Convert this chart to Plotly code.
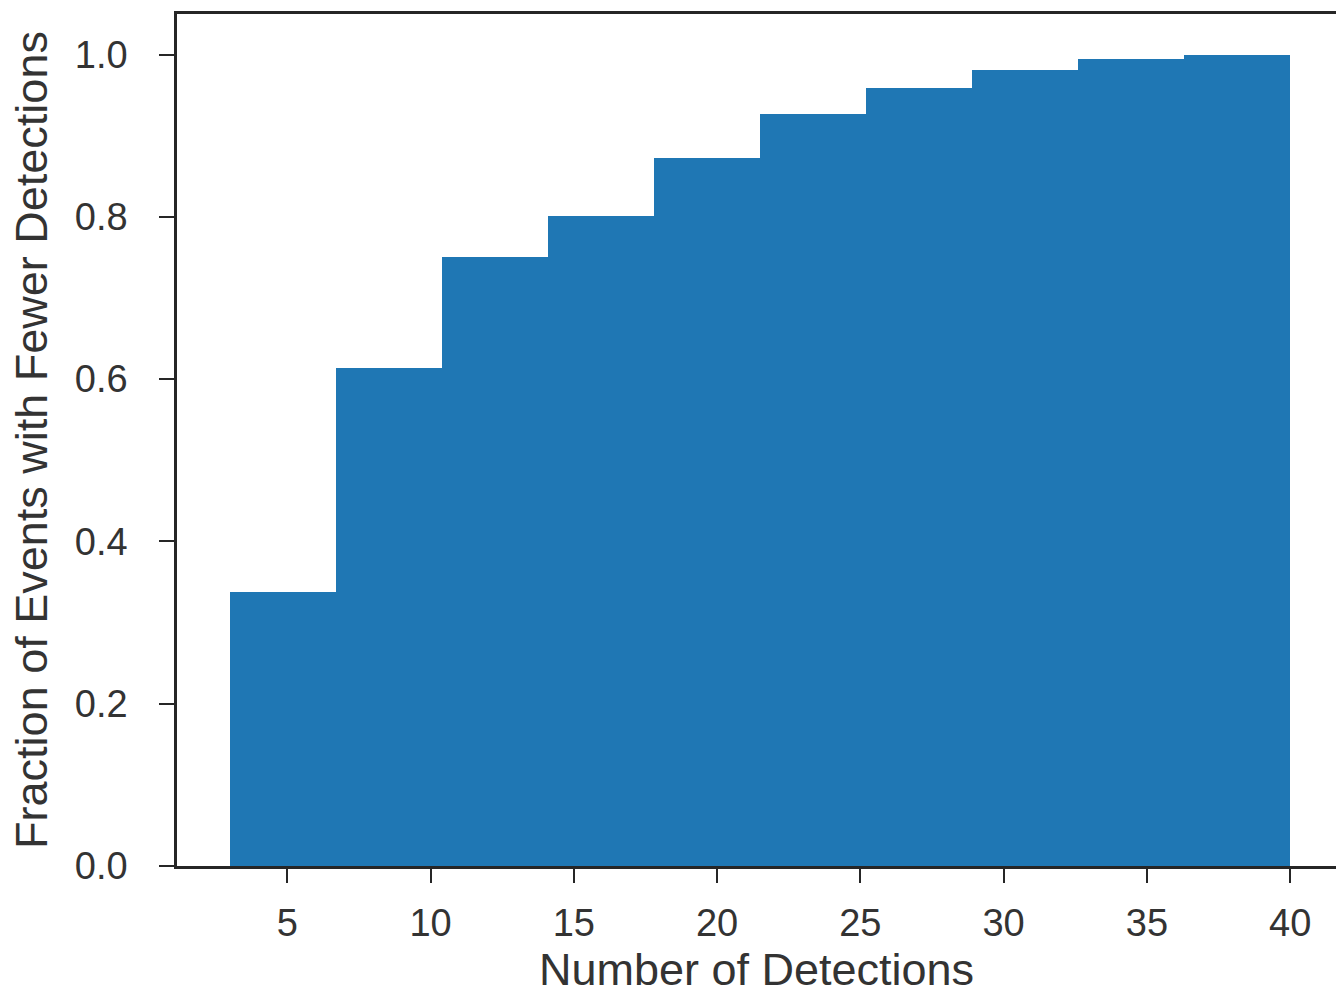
import plotly.graph_objects as go

bin_edges = [3.0, 6.7, 10.4, 14.1, 17.8, 21.5, 25.2, 28.9, 32.6, 36.3, 40.0]
cum_fraction = [0.338, 0.614, 0.750, 0.801, 0.872, 0.927, 0.959, 0.981, 0.995, 1.0]
x_ticks = [5, 10, 15, 20, 25, 30, 35, 40]
y_ticks = [0.0, 0.2, 0.4, 0.6, 0.8, 1.0]

centers = [(bin_edges[i] + bin_edges[i + 1]) / 2 for i in range(len(cum_fraction))]
widths = [bin_edges[i + 1] - bin_edges[i] for i in range(len(cum_fraction))]

FONT = "Liberation Sans, Arial, sans-serif"
DARK = "#262626"

fig = go.Figure(go.Bar(
    x=centers, y=cum_fraction, width=widths,
    marker=dict(color="#1f77b4", line=dict(width=0)),
))

fig.update_layout(
    width=1336, height=995,
    margin=dict(l=177, r=0, t=14, b=129),
    plot_bgcolor="white", paper_bgcolor="white",
    showlegend=False, bargap=0,
    font=dict(family=FONT, color=DARK),
)
fig.update_xaxes(
    range=[1.15, 41.6], tickvals=x_ticks, ticktext=[str(v) for v in x_ticks],
    showgrid=False, zeroline=False,
    showline=True, linecolor=DARK, linewidth=2.5, mirror=True,
    ticks="outside", ticklen=14, tickwidth=2, tickcolor=DARK,
    tickfont=dict(size=38, color="#333333", family=FONT), ticklabelstandoff=8,
    title=dict(text="Number of Detections", font=dict(size=45, color="#333333", family=FONT), standoff=6),
)
fig.update_yaxes(
    range=[0, 1.05], tickvals=y_ticks, ticktext=[f"{v:.1f}" for v in y_ticks],
    showgrid=False, zeroline=False,
    showline=True, linecolor=DARK, linewidth=2.5, mirror=False,
    ticks="outside", ticklen=15, tickwidth=2, tickcolor=DARK,
    tickfont=dict(size=38, color="#333333", family=FONT), ticklabelstandoff=24,
    title=dict(text="Fraction of Events with Fewer Detections", font=dict(size=45, color="#333333", family=FONT), standoff=14),
)

fig.write_html("out.html")
